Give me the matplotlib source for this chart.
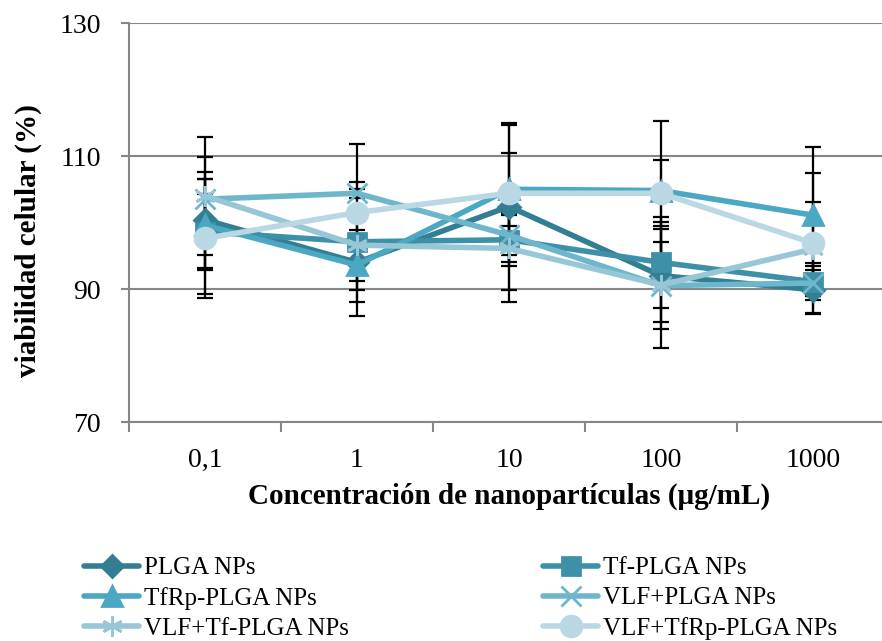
import matplotlib.pyplot as plt
from matplotlib.ticker import FixedLocator

plt.rcParams["font.family"] = ["Liberation Serif", "DejaVu Serif"]

concentrations = ["0,1", "1", "10", "100", "1000"]
series_names = ["PLGA NPs", "Tf-PLGA NPs", "TfRp-PLGA NPs",
                "VLF+PLGA NPs", "VLF+Tf-PLGA NPs", "VLF+TfRp-PLGA NPs"]

plga = [100.4, 94.0, 102.4, 92.0, 89.9]
tf_plga = [98.6, 97.1, 97.4, 94.0, 91.1]
tfrp_plga = [99.6, 93.6, 105.0, 104.8, 101.1]
vlf_plga = [103.5, 104.4, 98.1, 90.5, 90.9]
vlf_tf_plga = [104.0, 96.6, 96.1, 90.6, 96.0]
vlf_tfrp_plga = [97.6, 101.5, 104.4, 104.4, 96.9]

plga_err = [7.2, 4.1, 12.6, 7.0, 3.5]
tf_plga_err = [5.7, 9.0, 4.0, 6.8, 2.8]
tfrp_plga_err = [10.3, 7.6, 5.5, 10.5, 10.3]
vlf_plga_err = [3.0, 0.7, 3.0, 6.5, 2.0]
vlf_tf_plga_err = [8.9, 2.3, 8.1, 9.5, 7.1]
vlf_tfrp_plga_err = [8.9, 10.3, 10.3, 5.0, 10.6]

values = [plga, tf_plga, tfrp_plga, vlf_plga, vlf_tf_plga, vlf_tfrp_plga]
errors = [plga_err, tf_plga_err, tfrp_plga_err, vlf_plga_err,
          vlf_tf_plga_err, vlf_tfrp_plga_err]

colors = ["#347E93", "#3E90A9", "#4BA8C2", "#6EB6CB", "#97C6D6", "#BAD8E3"]
markers = ["D", "s", "^", "x", (6, 2, 0), "o"]
msizes = [11, 13, 14, 14, 15, 15]

fig = plt.figure(figsize=(8.82, 6.41), dpi=100)
ax = fig.add_axes([129 / 882, 219 / 641, 760 / 882, 399 / 641])

x = list(range(len(concentrations)))
handles = []
for vals, errs, col, mk, ms, name in zip(values, errors, colors, markers, msizes, series_names):
    ax.errorbar(x, vals, yerr=errs, fmt="none", ecolor="black",
                elinewidth=1.6, capsize=6, capthick=1.6, zorder=2)
    h, = ax.plot(x, vals, color=col, linewidth=4, marker=mk, markersize=ms,
                 markeredgewidth=2, markeredgecolor=col, markerfacecolor=col,
                 solid_capstyle="round", label=name, zorder=3)
    handles.append(h)

ax.set_xlim(-0.5, 4.5)
ax.set_ylim(70, 130)
ax.set_yticks([70, 90, 110, 130])
ax.yaxis.grid(True, color="#868686", linewidth=1.5)
ax.set_axisbelow(True)

ax.set_xticks(x)
ax.set_xticklabels(concentrations)
ax.xaxis.set_minor_locator(FixedLocator([-0.5, 0.5, 1.5, 2.5, 3.5, 4.5]))
ax.tick_params(axis="x", which="major", length=0, pad=19, labelsize=20)
ax.tick_params(axis="x", which="minor", length=7, width=1.5, color="#868686", direction="out")
ax.tick_params(axis="y", length=6, width=1.5, color="#868686", pad=14, labelsize=20)

for s in ["top", "right"]:
    ax.spines[s].set_visible(False)
for s in ["left", "bottom"]:
    ax.spines[s].set_color("#868686")
    ax.spines[s].set_linewidth(1.5)

ax.set_xlabel("Concentración de nanopartículas (μg/mL)", fontsize=21,
              fontweight="bold", labelpad=7)
ax.set_ylabel("viabilidad celular (%)", fontsize=21, fontweight="bold")
ax.yaxis.set_label_coords(-0.1145, 0.455)

leg_kw = dict(loc="upper left", frameon=False, fontsize=18, handlelength=2.2,
              handletextpad=0.2, labelspacing=0.3, numpoints=1, borderaxespad=0,
              borderpad=0)
fig.legend([handles[0], handles[2], handles[4]],
           [series_names[0], series_names[2], series_names[4]],
           bbox_to_anchor=(84 / 882, 1 - 557 / 641), **leg_kw)
fig.legend([handles[1], handles[3], handles[5]],
           [series_names[1], series_names[3], series_names[5]],
           bbox_to_anchor=(543 / 882, 1 - 557 / 641), **leg_kw)

fig.savefig("out.png", dpi=100, facecolor="white")
